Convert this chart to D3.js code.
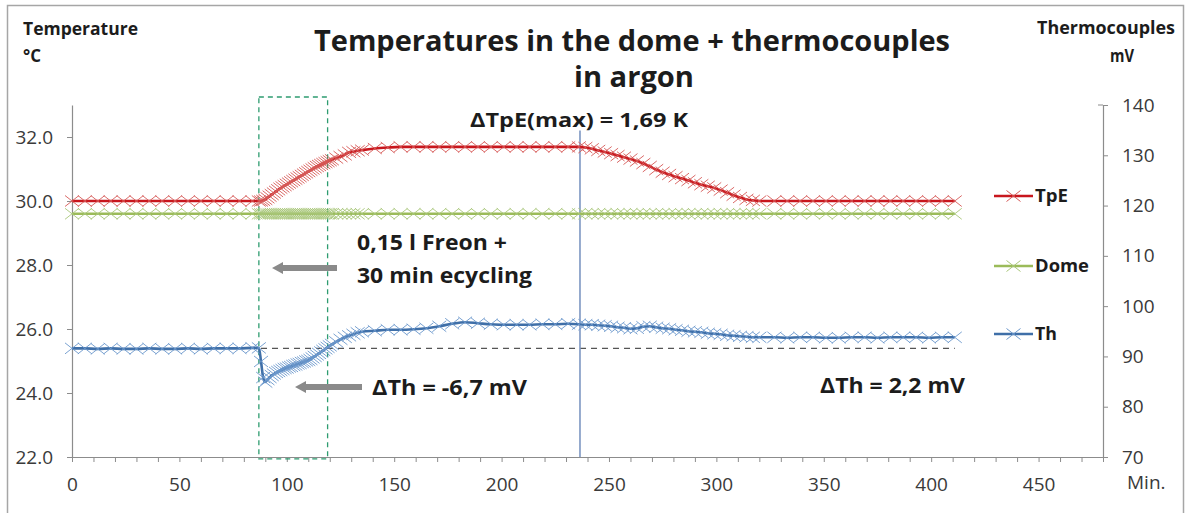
<!DOCTYPE html>
<html>
<head>
<meta charset="utf-8">
<script src="https://cdn.jsdelivr.net/npm/d3@7"></script>
<style>
  body { margin: 0; background: #ffffff; }
  svg { display: block; }
  text { font-family: "Open Sans", Lato, sans-serif; }
</style>
</head>
<body>
<svg id="chart" width="1189" height="513"></svg>
<script>
// Sampling times (minutes since start of the run)
const minutes = [
  0, 6, 12, 18, 24, 30, 36, 42, 48, 54, 60, 66, 72, 78, 84,
  87, 88, 89, 90, 91, 92, 93, 94, 95, 96, 97, 98, 99, 100, 101, 102, 103, 104,
  105, 106, 107, 108, 109, 110, 111, 112, 113, 114, 115, 116, 117, 118, 119, 120, 121,
  123, 125, 127, 129, 131, 133, 135,
  141, 147, 153, 159, 165, 171, 177, 183, 189, 195, 201, 207, 213, 219, 225, 231,
  236, 239, 242, 245, 248, 251, 254, 257, 260, 263, 266, 269, 272, 275, 278, 281,
  284, 287, 290, 293, 296, 299, 302, 305, 308, 311, 314, 317, 320,
  327, 333, 339, 345, 351, 357, 363, 369, 375, 381, 387, 393, 399, 405, 411
];

// TpE temperature, °C (left axis)
const tpe = [
  30.0, 30.0, 30.0, 30.0, 30.0, 30.0, 30.0, 30.0, 30.0, 30.0, 30.0, 30.0, 30.0, 30.0, 30.0,
  30.0, 30.0, 30.02, 30.05, 30.1, 30.15, 30.2, 30.25, 30.3, 30.35, 30.4, 30.44, 30.48, 30.52,
  30.56, 30.6, 30.64, 30.68, 30.72, 30.76, 30.8, 30.84, 30.88, 30.92, 30.96, 31.0, 31.04,
  31.08, 31.11, 31.14, 31.17, 31.2, 31.23, 31.26, 31.29,
  31.34, 31.39, 31.44, 31.52, 31.54, 31.57, 31.59,
  31.64, 31.67, 31.69, 31.69, 31.69, 31.69, 31.69, 31.69, 31.69, 31.69, 31.69, 31.69, 31.69,
  31.69, 31.69, 31.69,
  31.69, 31.67, 31.63, 31.58, 31.53, 31.48, 31.42, 31.37, 31.31, 31.25, 31.17, 31.08, 30.98,
  30.9, 30.83, 30.76, 30.7, 30.64, 30.57, 30.51, 30.46, 30.41, 30.34, 30.26, 30.18, 30.11,
  30.05, 30.02, 30.0,
  30.0, 30.0, 30.0, 30.0, 30.0, 30.0, 30.0, 30.0, 30.0, 30.0, 30.0, 30.0, 30.0, 30.0, 30.0
];

// Dome temperature, °C (left axis)
const dome = [
  29.6, 29.6, 29.6, 29.6, 29.6, 29.6, 29.6, 29.6, 29.6, 29.6, 29.6, 29.6, 29.6, 29.6, 29.6,
  29.6, 29.6, 29.6, 29.6, 29.6, 29.6, 29.6, 29.6, 29.6, 29.6, 29.6, 29.6, 29.6, 29.6, 29.6,
  29.6, 29.6, 29.6, 29.6, 29.6, 29.6, 29.6, 29.6, 29.6, 29.6, 29.6, 29.6, 29.6, 29.6, 29.6,
  29.6, 29.6, 29.6, 29.6, 29.6,
  29.6, 29.6, 29.6, 29.6, 29.6, 29.6, 29.6,
  29.6, 29.6, 29.6, 29.6, 29.6, 29.6, 29.6, 29.6, 29.6, 29.6, 29.6, 29.6, 29.6, 29.6, 29.6, 29.6,
  29.6, 29.6, 29.6, 29.6, 29.6, 29.6, 29.6, 29.6, 29.6, 29.6, 29.6, 29.6, 29.6, 29.6, 29.6,
  29.6, 29.6, 29.6, 29.6, 29.6, 29.6, 29.6, 29.6, 29.6, 29.6, 29.6, 29.6, 29.6, 29.6,
  29.6, 29.6, 29.6, 29.6, 29.6, 29.6, 29.6, 29.6, 29.6, 29.6, 29.6, 29.6, 29.6, 29.6, 29.6
];

// Thermocouple signal, mV (right axis)
const th = [
  91.6, 91.6, 91.5, 91.6, 91.5, 91.5, 91.6, 91.5, 91.5, 91.6, 91.5, 91.6, 91.6, 91.6, 91.7,
  91.7, 89.0, 85.8, 84.9, 85.4, 85.8, 86.2, 86.5, 86.8, 87.0, 87.2, 87.4, 87.6, 87.7, 87.9,
  88.0, 88.2, 88.3, 88.5, 88.6, 88.8, 88.9, 89.1, 89.2, 89.4, 89.7, 90.0, 90.3, 90.6, 90.9,
  91.2, 91.5, 91.8, 92.1, 92.4,
  92.9, 93.4, 93.8, 94.1, 94.4, 94.7, 94.9,
  95.1, 95.3, 95.3, 95.4, 95.6, 96.0, 96.5, 96.8, 96.6, 96.4, 96.3, 96.3, 96.3, 96.4, 96.4, 96.5,
  96.4, 96.3, 96.3, 96.2, 96.1, 96.0, 95.8, 95.7, 95.5, 95.6, 95.9, 96.0, 95.8, 95.6, 95.5,
  95.3, 95.2, 95.0, 94.9, 94.8, 94.6, 94.5, 94.4, 94.2, 94.1, 94.0, 93.9, 93.8, 93.8,
  93.8, 93.7, 93.8, 93.8, 93.7, 93.7, 93.8, 93.8, 93.7, 93.8, 93.8, 93.8, 93.7, 93.8, 93.8
];

// Axis ticks
const tempTicks = [22, 24, 26, 28, 30, 32];
const mvTicks = [70, 80, 90, 100, 110, 120, 130, 140];
const minuteTicks = [0, 50, 100, 150, 200, 250, 300, 350, 400, 450];

// Reference levels and marked events
const thBaseline = 91.6;       // Th level before the Freon injection
const freonWindow = [87, 119]; // minutes, injection + recycling window
const tpeMaxAt = 236.5;        // minute of the ΔTpE(max) reading

const seriesInfo = [
  { name: "TpE",  values: tpe,  axis: "temp", line: "#c8161d", marker: "#d65a58" },
  { name: "Dome", values: dome, axis: "temp", line: "#9bbb59", marker: "#a9c77a" },
  { name: "Th",   values: th,   axis: "mv",   line: "#3f6fa8", marker: "#6c98cc" }
];

const svg = d3.select("#chart");
const plot = { left: 72, right: 1103, top: 105, bottom: 457 };

const x = d3.scaleLinear().domain([0, 480]).range([plot.left, plot.right]);
const yTemp = d3.scaleLinear().domain([22, 33]).range([plot.bottom, plot.top]);
const yMv = d3.scaleLinear().domain([70, 140]).range([plot.bottom, plot.top]);
const yFor = { temp: yTemp, mv: yMv };

const axisColor = "#8c8c8c";
const tickTextColor = "#3a3a3a";
const inkColor = "#1c1c1c";

// Bold text with a fixed rendered width (the chart's labels use a wide face)
function label(tx, ty, str, size, width, anchor) {
  const t = svg.append("text").attr("x", tx).attr("y", ty)
    .attr("font-size", size).attr("font-weight", 700).attr("fill", inkColor)
    .attr("text-anchor", anchor || "start").text(str);
  if (width) t.attr("textLength", width).attr("lengthAdjust", "spacingAndGlyphs");
  return t;
}

// Outer frame
svg.append("rect")
  .attr("x", 7.5).attr("y", 5.5).attr("width", 1176).attr("height", 520)
  .attr("fill", "#ffffff").attr("stroke", "#a6a6a6").attr("stroke-width", 1.5);

// Titles
label(632, 51, "Temperatures in the dome + thermocouples", 29, 636, "middle");
label(634, 87, "in argon", 29, 120, "middle");

label(23, 35, "Temperature", 17, 115);
label(23, 62, "°C", 17, 18);
label(1037, 34, "Thermocouples", 17, 138);
label(1110, 62, "mV", 17, 24);

// Axes
function styleAxis(g) {
  g.selectAll("path.domain").attr("stroke", axisColor).attr("stroke-width", 1.2);
  g.selectAll(".tick line").attr("stroke", axisColor).attr("stroke-width", 1);
  g.selectAll(".tick text").attr("fill", tickTextColor)
    .attr("font-size", 19).attr("font-family", "'Open Sans', sans-serif");
}

const leftAxis = svg.append("g").attr("transform", `translate(${plot.left},0)`)
  .call(d3.axisLeft(yTemp).tickValues(tempTicks).tickFormat(d3.format(".1f"))
    .tickSize(5).tickSizeOuter(0).tickPadding(14));
styleAxis(leftAxis);

const rightAxis = svg.append("g").attr("transform", `translate(${plot.right},0)`)
  .call(d3.axisRight(yMv).tickValues(mvTicks).tickSize(5).tickSizeOuter(0).tickPadding(14));
styleAxis(rightAxis);
// short cap tick at the upper end of the right axis
rightAxis.append("line").attr("x1", 0).attr("x2", -5)
  .attr("y1", yMv(140)).attr("y2", yMv(140)).attr("stroke", axisColor);

const minorTicks = d3.range(0, 481, 10);
const bottomAxis = svg.append("g").attr("transform", `translate(0,${plot.bottom})`)
  .call(d3.axisBottom(x).tickValues(minorTicks)
    .tickFormat(d => minuteTicks.includes(d) ? d : "")
    .tickSize(5).tickSizeOuter(0).tickPadding(16));
styleAxis(bottomAxis);

svg.append("text").attr("x", 1127).attr("y", 489)
  .attr("font-size", 19).attr("fill", tickTextColor).text("Min.");

// Freon window box
svg.append("rect")
  .attr("x", x(freonWindow[0])).attr("y", yTemp(33.25))
  .attr("width", x(freonWindow[1]) - x(freonWindow[0]))
  .attr("height", yTemp(21.94) - yTemp(33.25))
  .attr("fill", "none").attr("stroke", "#2e9c70").attr("stroke-width", 1.3)
  .attr("stroke-dasharray", "5,4");

// Th baseline reference
svg.append("line")
  .attr("x1", x(88)).attr("x2", x(411))
  .attr("y1", yMv(thBaseline)).attr("y2", yMv(thBaseline))
  .attr("stroke", "#555555").attr("stroke-width", 1.4).attr("stroke-dasharray", "6,5");

// ΔTpE(max) marker line
svg.append("line")
  .attr("x1", x(tpeMaxAt)).attr("x2", x(tpeMaxAt))
  .attr("y1", yTemp(32.2)).attr("y2", plot.bottom)
  .attr("stroke", "#7d97c2").attr("stroke-width", 1.6);

// Series: line plus x-shaped markers
const markerPath = "M-7,-5.5L7,5.5M-7,5.5L7,-5.5";

seriesInfo.forEach(s => {
  const yS = yFor[s.axis];
  const pts = minutes.map((m, i) => [m, s.values[i]]);
  const g = svg.append("g").attr("class", "series-" + s.name);
  g.append("path")
    .datum(pts)
    .attr("fill", "none").attr("stroke", s.line).attr("stroke-width", 2.6)
    .attr("stroke-linejoin", "round")
    .attr("d", d3.line().x(d => x(d[0])).y(d => yS(d[1])).curve(d3.curveMonotoneX));
  g.selectAll("path.mk").data(pts).join("path")
    .attr("class", "mk")
    .attr("transform", d => `translate(${x(d[0])},${yS(d[1])})`)
    .attr("d", markerPath)
    .attr("fill", "none").attr("stroke", s.marker).attr("stroke-width", 1)
    .attr("stroke-opacity", 0.9);
});

// Legend
const legendY = { TpE: 196, Dome: 266, Th: 334 };
const legendWidth = { TpE: 33, Dome: 54, Th: 22 };
seriesInfo.forEach(s => {
  const ly = legendY[s.name];
  svg.append("line").attr("x1", 994).attr("x2", 1033).attr("y1", ly).attr("y2", ly)
    .attr("stroke", s.line).attr("stroke-width", 2.6);
  svg.append("path").attr("transform", `translate(1013.5,${ly})`).attr("d", markerPath)
    .attr("fill", "none").attr("stroke", s.marker).attr("stroke-width", 1);
  label(1035, ly + 6, s.name, 17, legendWidth[s.name]);
});

// Annotations
label(470, 127, "ΔTpE(max) = 1,69 K", 20, 218);
label(357, 250, "0,15 l Freon +", 21, 150);
label(357, 283, "30 min ecycling", 21, 175);
label(372, 395, "ΔTh = -6,7 mV", 21, 155);
label(820, 393, "ΔTh = 2,2 mV", 21, 145);

// Grey pointer arrows
function arrow(x0, x1, ay) {
  svg.append("path")
    .attr("d", `M${x0},${ay} L${x0 + 11},${ay - 6} L${x0 + 11},${ay - 3} L${x1},${ay - 3} L${x1},${ay + 3} L${x0 + 11},${ay + 3} L${x0 + 11},${ay + 6} Z`)
    .attr("fill", "#8a8a8a");
}
arrow(272, 337, 268);
arrow(295, 362, 387);
</script>
</body>
</html>
